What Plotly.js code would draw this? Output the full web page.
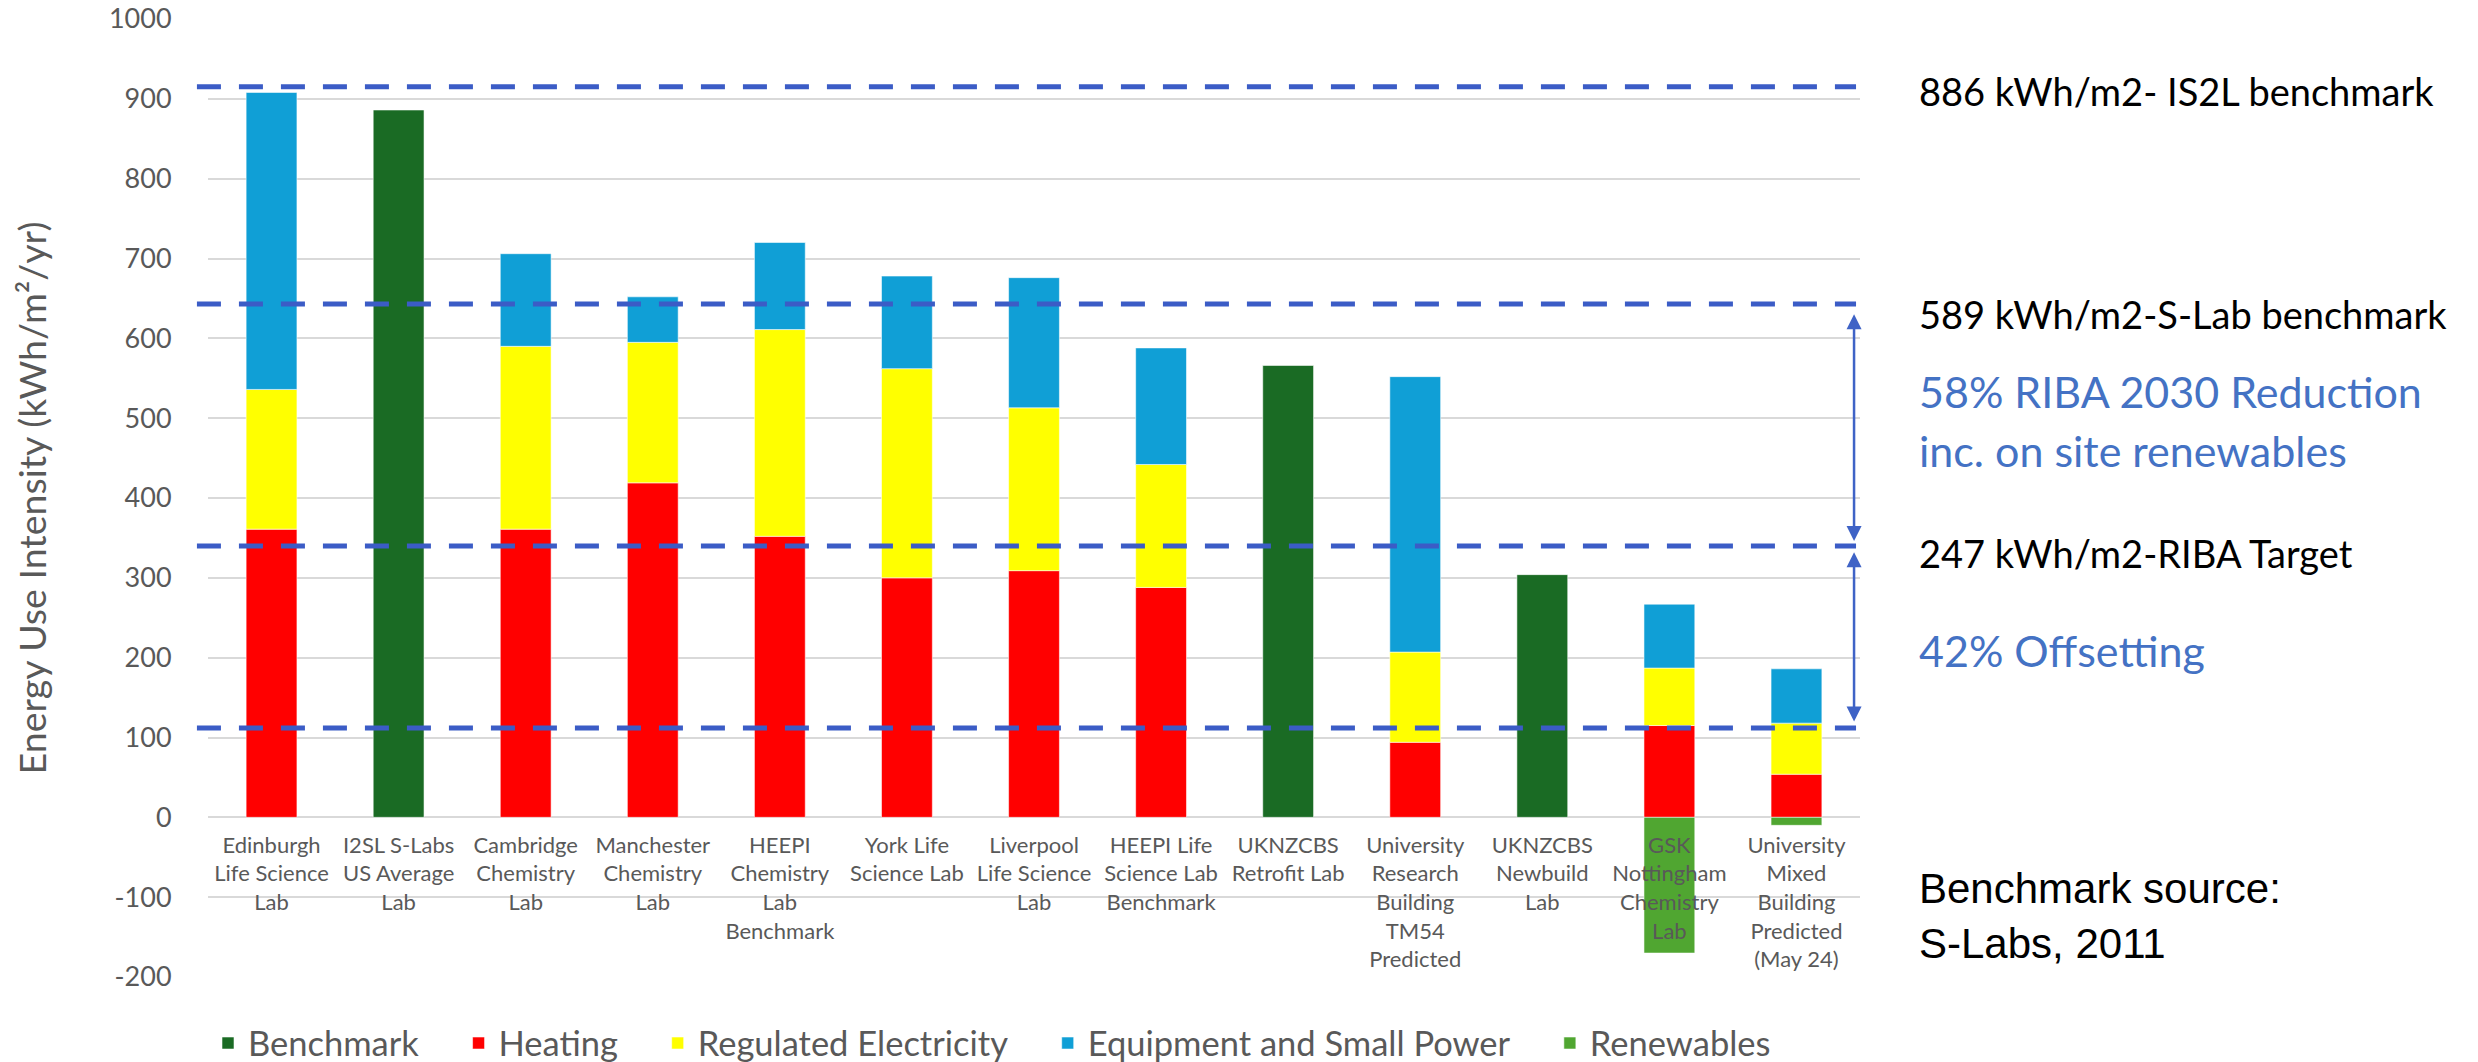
<!DOCTYPE html>
<html>
<head>
<meta charset="utf-8">
<script src="https://cdn.plot.ly/plotly-3.0.1.min.js"></script>
<style>html,body{margin:0;padding:0;background:#fff;}#chart{width:2478px;height:1062px;}</style>
</head>
<body>
<div id="chart"></div>
<script>
const categories = [
  "Edinburgh<br>Life Science<br>Lab",
  "I2SL S-Labs<br>US Average<br>Lab",
  "Cambridge<br>Chemistry<br>Lab",
  "Manchester<br>Chemistry<br>Lab",
  "HEEPI<br>Chemistry<br>Lab<br>Benchmark",
  "York Life<br>Science Lab",
  "Liverpool<br>Life Science<br>Lab",
  "HEEPI Life<br>Science Lab<br>Benchmark",
  "UKNZCBS<br>Retrofit Lab",
  "University<br>Research<br>Building<br>TM54<br>Predicted",
  "UKNZCBS<br>Newbuild<br>Lab",
  "GSK<br>Nottingham<br>Chemistry<br>Lab",
  "University<br>Mixed<br>Building<br>Predicted<br>(May 24)"
];
const benchmark  = [null, 886, null, null, null, null, null, null, 566, null, 304, null, null];
const heating    = [361, null, 361, 419, 352, 300, 309, 288, null, 94, null, 115, 54];
const regulated  = [175, null, 229, 176, 259, 262, 204, 154, null, 113, null, 72, 64];
const equipment  = [372, null, 116, 57, 109, 116, 163, 146, null, 345, null, 80, 68];
const renewables = [null, null, null, null, null, null, null, null, null, null, null, -170, -10];
const refLines = [915, 643, 340, 112];
const arrowSpans = [[632, 346], [334, 120]];
const yTicks = [-200, -100, 0, 100, 200, 300, 400, 500, 600, 700, 800, 900, 1000];

const FONT = "Lato, 'Open Sans', sans-serif";
const GREY = "#595959";
const LEGEND_PAD = "\u2003\u00a0";

const series = [
  {name: "Benchmark", y: benchmark, color: "#1A6B24"},
  {name: "Heating", y: heating, color: "#FF0000"},
  {name: "Regulated Electricity", y: regulated, color: "#FFFF00"},
  {name: "Equipment and Small Power", y: equipment, color: "#109FD6"},
  {name: "Renewables", y: renewables, color: "#50A631"}
];

const traces = series.map((s, i) => ({
  type: "bar",
  name: s.name + (i < series.length - 1 ? LEGEND_PAD : ""),
  x: categories,
  y: s.y,
  marker: {color: s.color, line: {width: 1, color: "rgba(255,255,255,0.55)"}},
  hovertemplate: "%{x}<br>%{y}<extra>" + s.name + "</extra>"
}));

const shapes = refLines.map(v => ({
  type: "line", xref: "paper", yref: "y",
  x0: -0.0067, x1: 0.9976, y0: v, y1: v,
  line: {color: "#3B5CC6", width: 5, dash: "24px,18px"},
  layer: "above"
}));

const annotations = [];
arrowSpans.forEach(sp => {
  annotations.push({
    xref: "paper", yref: "y", x: 0.9964, y: sp[1],
    axref: "pixel", ayref: "y", ax: 0, ay: sp[0],
    text: "", showarrow: true, arrowside: "end+start",
    arrowhead: 2, startarrowhead: 2, arrowsize: 1.2, startarrowsize: 1.2,
    arrowwidth: 2.5, arrowcolor: "#3F63C6"
  });
});
const labels = [
  {t: "886 kWh/m2- IS2L benchmark", y: 910, c: "#000000", s: 38},
  {t: "589 kWh/m2-S-Lab benchmark", y: 631, c: "#000000", s: 38},
  {t: "58% RIBA 2030 Reduction", y: 534, c: "#4472C4", s: 43},
  {t: "inc. on site renewables", y: 460, c: "#4472C4", s: 43},
  {t: "247 kWh/m2-RIBA Target", y: 331, c: "#000000", s: 38},
  {t: "42% Offsetting", y: 209, c: "#4472C4", s: 43}
];
labels.forEach(l => annotations.push({
  xref: "paper", yref: "y", x: 1.0345, y: l.y, xanchor: "left", yanchor: "middle",
  text: l.t, showarrow: false, font: {family: FONT, size: l.s, color: l.c}
}));
annotations.push({
  xref: "paper", yref: "y", x: 1.0345, y: -124, xanchor: "left", yanchor: "middle", align: "left",
  text: "Benchmark source:<br>S-Labs, 2011", showarrow: false,
  font: {family: "'Liberation Sans', Arial, sans-serif", size: 42, color: "#000000"}
});

const layout = {
  width: 2478, height: 1062,
  margin: {l: 208, r: 618, t: 19, b: 85, autoexpand: false},
  paper_bgcolor: "#ffffff", plot_bgcolor: "#ffffff",
  barmode: "relative", bargap: 0.6,
  showlegend: true,
  legend: {orientation: "h", x: 0.0, xanchor: "left", y: -0.069, yanchor: "middle",
           font: {family: FONT, size: 34.5, color: GREY}, traceorder: "normal"},
  xaxis: {
    type: "category", anchor: "free", position: 200 / 1200,
    showgrid: false, showline: false, zeroline: false,
    ticks: "outside", ticklen: 8, tickcolor: "rgba(0,0,0,0)",
    tickfont: {family: FONT, size: 22, color: GREY}, tickangle: 0,
    automargin: false, layer: "above traces"
  },
  yaxis: {
    range: [-200, 1000], tickvals: yTicks, ticktext: yTicks.map(String),
    showgrid: true, gridcolor: "#D9D9D9", gridwidth: 2,
    zeroline: true, zerolinecolor: "#D9D9D9", zerolinewidth: 2,
    showline: false, ticks: "outside", ticklen: 30, tickcolor: "rgba(0,0,0,0)",
    tickfont: {family: FONT, size: 27, color: GREY},
    title: {text: "Energy Use Intensity (kWh/m²/yr)", font: {family: FONT, size: 37.5, color: GREY}, standoff: 50},
    automargin: false
  },
  shapes: shapes,
  annotations: annotations
};

Plotly.newPlot("chart", traces, layout, {displayModeBar: false, responsive: false});
</script>
</body>
</html>
